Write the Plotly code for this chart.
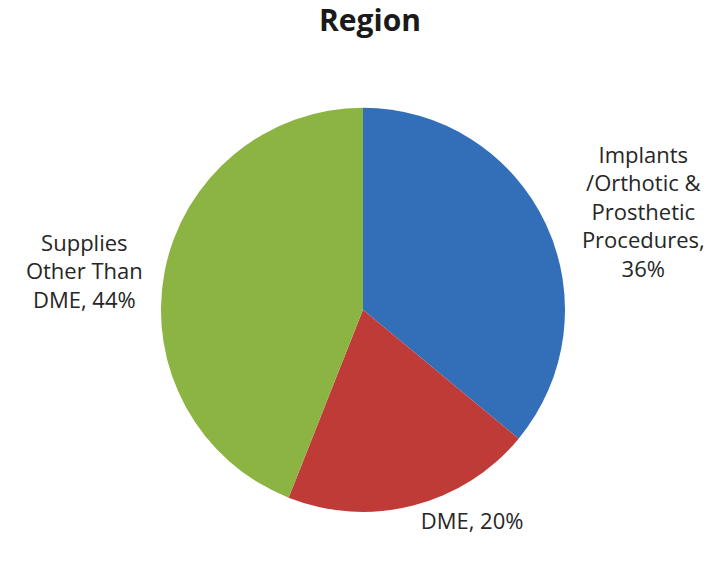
import plotly.graph_objects as go

labels = ["Implants<br>/Orthotic &<br>Prosthetic<br>Procedures", "DME", "Supplies<br>Other Than<br>DME"]
values = [36, 20, 44]
percent_text = ["36%", "20%", "44%"]
colors = ["#336fb8", "#bf3b38", "#8cb443"]
title = "Region"

texts = [labels[0] + ",<br>" + percent_text[0],
         labels[1] + ", " + percent_text[1],
         labels[2] + ", " + percent_text[2]]

fig = go.Figure(go.Pie(
    labels=labels,
    values=values,
    text=texts,
    textinfo="text",
    sort=False,
    direction="clockwise",
    rotation=0,
    marker=dict(colors=colors, line=dict(color="white", width=0)),
    textposition="outside",
    textfont=dict(family="Open Sans", size=22, color="#262626"),
    domain=dict(x=[0.2245, 0.788], y=[0.097, 0.810]),
    showlegend=False,
    automargin=False,
))

fig.update_layout(
    width=717, height=567,
    margin=dict(l=0, r=0, t=0, b=0),
    paper_bgcolor="white",
    title=dict(text="<b>" + title + "</b>", x=0.516, xanchor="center", y=0.963, yanchor="middle",
               font=dict(family="Open Sans", size=30, color="#1a1a1a")),
)

fig.write_html("out.html", config={"displayModeBar": False},
               post_script="document.body.style.margin='0';")
